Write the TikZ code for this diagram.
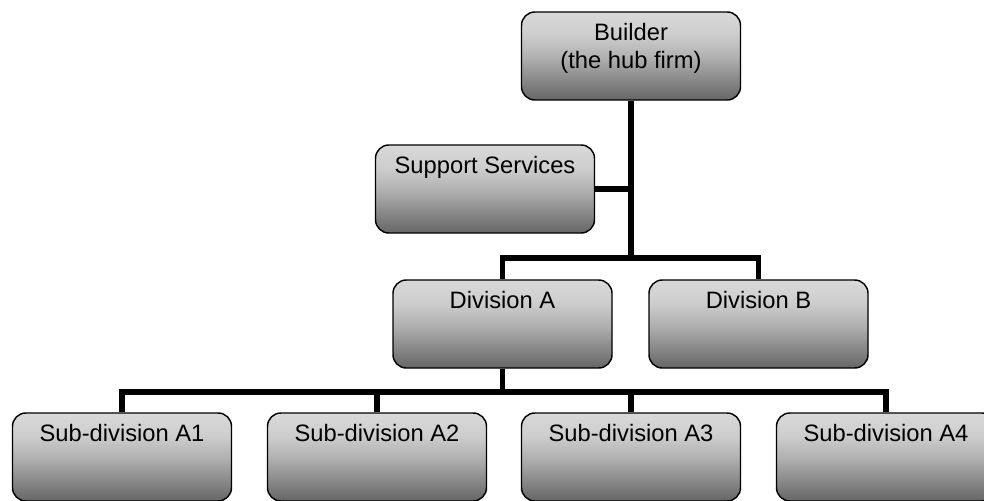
\documentclass[tikz,border=0pt]{standalone}
\usepackage{fontspec}
\setmainfont{Liberation Sans}
\usetikzlibrary{calc}

\definecolor{boxtop}{HTML}{D9D9D9}
\definecolor{boxhi}{HTML}{CDCDCD}
\definecolor{boxmid}{HTML}{B2B2B2}
\definecolor{boxlow}{HTML}{8A8A8A}
\definecolor{boxbot}{HTML}{666666}

% light grey at the top, darkening towards the bottom edge
\pgfdeclareverticalshading{boxfade}{100bp}{%
  color(0bp)=(boxbot); color(25bp)=(boxbot); color(37bp)=(boxlow);
  color(50bp)=(boxmid); color(62bp)=(boxhi); color(75bp)=(boxtop);
  color(100bp)=(boxtop)}

\newcommand\boxfont{\fontsize{17.8pt}{20.5pt}\selectfont}
\newcommand\boxtext[1]{\parbox[t][66pt][t]{164.25pt}{\centering\rule{0pt}{21.5pt}#1}}

\tikzset{
  orgbox/.style={draw=black, line width=1.1pt, rounded corners=10pt,
    shade, shading=boxfade, inner sep=0pt, font=\boxfont},
  conn/.style={line width=3.8pt, line join=miter}
}

\begin{document}
\begin{tikzpicture}[x=0.75pt, y=-0.75pt]
\useasboundingbox (0,0) rectangle (984,500);

% boxes
\node[orgbox] (hub) at (631,56) {\boxtext{Builder\\(the hub firm)}};
\node[orgbox] (sup) at (485,189) {\boxtext{Support Services}};
\node[orgbox] (da)  at (502.5,324) {\boxtext{Division A}};
\node[orgbox] (db)  at (758.5,324) {\boxtext{Division B}};
\node[orgbox] (s1)  at (122,457) {\boxtext{Sub-division A1}};
\node[orgbox] (s2)  at (377,457) {\boxtext{Sub-division A2}};
\node[orgbox] (s3)  at (631,457) {\boxtext{Sub-division A3}};
\node[orgbox] (s4)  at (886,457) {\boxtext{Sub-division A4}};

% junction points of the two horizontal bars
\coordinate (bus1) at (631,258);
\coordinate (bus2) at (502.5,392);

% connectors
\draw[conn] (hub.south) -- (bus1);
\draw[conn] (sup.east) -- (sup.east -| hub.south);
\draw[conn] (da.north) |- (bus1) -| (db.north);
\draw[conn] (da.south) -- (bus2);
\draw[conn] (s1.north) |- (bus2) -| (s4.north);
\draw[conn] (s2.north) -- (s2.north |- bus2);
\draw[conn] (s3.north) -- (s3.north |- bus2);
\end{tikzpicture}
\end{document}
